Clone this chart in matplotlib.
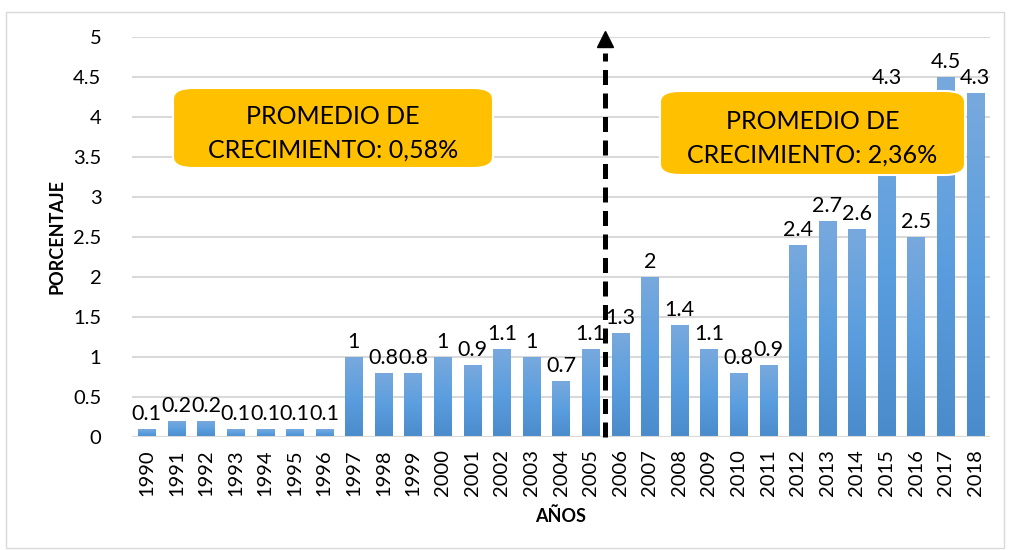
import matplotlib
matplotlib.use("Agg")
import matplotlib.pyplot as plt
from matplotlib.patches import FancyBboxPatch, Rectangle
from matplotlib.colors import LinearSegmentedColormap
import numpy as np

years = [str(y) for y in range(1990, 2019)]
values = [0.1, 0.2, 0.2, 0.1, 0.1, 0.1, 0.1, 1, 0.8, 0.8, 1, 0.9, 1.1, 1, 0.7, 1.1,
          1.3, 2, 1.4, 1.1, 0.8, 0.9, 2.4, 2.7, 2.6, 4.3, 2.5, 4.5, 4.3]
yticks = [0, 0.5, 1, 1.5, 2, 2.5, 3, 3.5, 4, 4.5, 5]
ytick_labels = ["0", "0.5", "1", "1.5", "2", "2.5", "3", "3.5", "4", "4.5", "5"]
box_left_text = "PROMEDIO DE\nCRECIMIENTO: 0,58%"
box_right_text = "PROMEDIO DE\nCRECIMIENTO: 2,36%"

plt.rcParams['font.family'] = ['Lato', 'DejaVu Sans']

fig = plt.figure(figsize=(10.1, 5.5), dpi=100)
ax = fig.add_axes([132/1010, 1-437/550, (990-132)/1010, 400/550])

x = np.arange(len(years))
width = 0.58
bars = ax.bar(x, values, width=width, color="#5B9BD5", zorder=2)

# per-bar vertical gradient (bottom darker, top lighter)
cmap = LinearSegmentedColormap.from_list("bargrad", ["#4A8BCB", "#5B9EDF", "#78A9DD"])
grad = np.linspace(0, 1, 256).reshape(-1, 1)
for b in bars:
    bx, by = b.get_x(), b.get_y()
    bw, bh = b.get_width(), b.get_height()
    im = ax.imshow(grad, extent=[bx, bx + bw, by, by + bh], origin='lower',
                   aspect='auto', cmap=cmap, zorder=2.1, interpolation='bilinear')
    im.set_clip_path(b)

ax.set_xlim(-0.5, len(years) - 0.5)
ax.set_ylim(0, 5)
ax.set_yticks(yticks)
ax.set_yticklabels(ytick_labels, fontsize=14.5)
ax.set_xticks(x)
ax.set_xticklabels(years, rotation=90, fontsize=14.5)
ax.tick_params(length=0, pad=9)
ax.tick_params(axis='y', pad=22)
ax.grid(axis='y', color="#D9D9D9", linewidth=1.5, zorder=0)
ax.axhline(0, color="#D9D9D9", linewidth=1.5, zorder=3)
for s in ax.spines.values():
    s.set_visible(False)

for xi, v in zip(x, values):
    ax.text(xi, v + 0.06, f"{v:g}", ha='center', va='bottom', fontsize=15.5, zorder=3)

ax.set_ylabel("PORCENTAJE", fontsize=13, fontweight='bold')
ax.yaxis.set_label_coords(-0.077, 0.5)
ax.set_xlabel("AÑOS", fontsize=13, fontweight='bold', labelpad=8)

# dashed arrow between 2005 and 2006
ax.plot([15.5, 15.5], [0, 4.8], color="black", lw=3.6, linestyle=(0, (3, 1.7)),
        solid_capstyle='butt', dash_capstyle='butt', zorder=4, clip_on=False)
ax.plot([15.5], [4.97], marker='^', markersize=12, color="black", zorder=4,
        clip_on=False, linestyle='none')

def box(x0, y0, x1, y1, text):
    fx0, fx1 = x0 / 1010, x1 / 1010
    fy0, fy1 = 1 - y1 / 550, 1 - y0 / 550
    p = FancyBboxPatch((fx0, fy0), fx1 - fx0, fy1 - fy0,
                       boxstyle="round,pad=0,rounding_size=0.02",
                       transform=fig.transFigure, facecolor="#FFC000",
                       edgecolor="white", linewidth=1.5, zorder=5)
    fig.patches.append(p)
    fig.text((fx0 + fx1) / 2, (fy0 + fy1) / 2 - 5 / 550, text, ha='center', va='center',
             fontsize=18, linespacing=1.55, zorder=6)

box(173, 88, 493, 168, box_left_text)
box(660, 91, 965, 175, box_right_text)

fig.patches.append(Rectangle((0.006, 0.004), 0.988, 0.975, transform=fig.transFigure,
                             fill=False, edgecolor="#D9D9D9", linewidth=1))

fig.savefig("out.png", dpi=100)
